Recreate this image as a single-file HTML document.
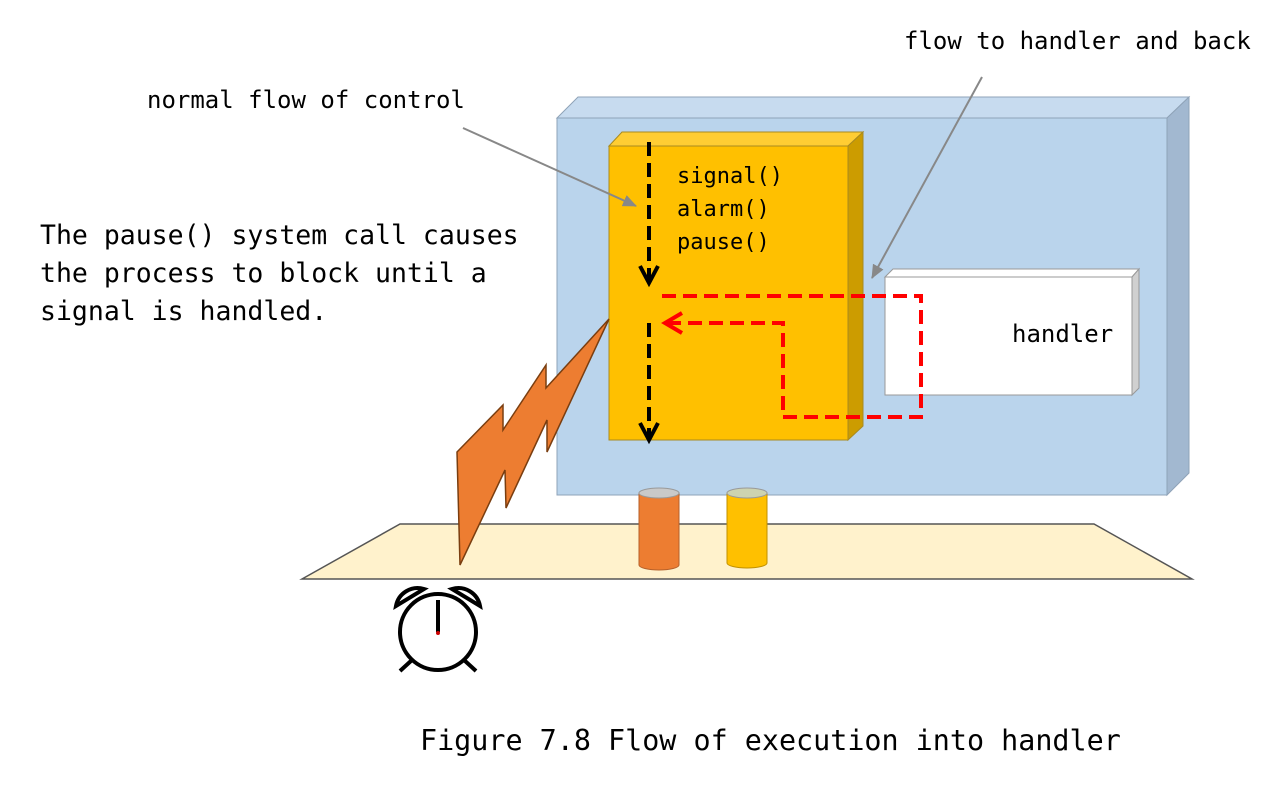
<!DOCTYPE html>
<html><head><meta charset="utf-8"><style>
body{margin:0;background:#fff;width:1280px;height:786px;overflow:hidden}
svg text{font-family:"DejaVu Sans Mono","Liberation Mono",monospace;fill:#000}
</style></head><body>
<svg width="1280" height="786" viewBox="0 0 1280 786" xmlns="http://www.w3.org/2000/svg">
<defs>
<marker id="ga" markerWidth="14" markerHeight="12" refX="13" refY="6" orient="auto" markerUnits="userSpaceOnUse"><path d="M0,0 L14,6 L0,12 z" fill="#888"/></marker>
</defs>
<polygon points="302,579 400,524 1094,524 1192,579" fill="#fff2cc" stroke="#555" stroke-width="1.5"/>
<polygon points="557,118 578,97 1189,97 1167,118" fill="#c7dbef" stroke="#8fa3b8"/>
<polygon points="1167,118 1189,97 1189,473 1167,495" fill="#a2b8d0" stroke="#8fa3b8"/>
<rect x="557" y="118" width="610" height="377" fill="#bad4ec" stroke="#8fa3b8"/>
<polygon points="609,146 622,132 863,132 848,146" fill="#ffcd33" stroke="#a88a20"/>
<polygon points="848,146 863,132 863,426 848,440" fill="#cc9c00" stroke="#a88a20"/>
<rect x="609" y="146" width="239" height="294" fill="#ffc000" stroke="#a88a20"/>
<polygon points="885,277 893,269 1139,269 1132,277" fill="#fff" stroke="#999"/>
<polygon points="1132,277 1139,269 1139,388 1132,395" fill="#d0d0d0" stroke="#999"/>
<rect x="885" y="277" width="247" height="118" fill="#fff" stroke="#999"/>
<text x="1012" y="342" font-size="24">handler</text>
<text x="677" y="183" font-size="22">signal()</text>
<text x="677" y="216" font-size="22">alarm()</text>
<text x="677" y="249" font-size="22">pause()</text>
<line x1="649" y1="142" x2="649" y2="282" stroke="#000" stroke-width="4" stroke-dasharray="14,7"/>
<polyline points="640,266 649,283 658,266" fill="none" stroke="#000" stroke-width="4"/>
<line x1="649" y1="323" x2="649" y2="439" stroke="#000" stroke-width="4" stroke-dasharray="14,7"/>
<polyline points="640,423 649,440 658,423" fill="none" stroke="#000" stroke-width="4"/>
<polyline points="662,296 921,296 921,417 783,417 783,323 666,323" fill="none" stroke="#f00" stroke-width="4" stroke-dasharray="14,7"/>
<polyline points="682,313 665,323 682,333" fill="none" stroke="#f00" stroke-width="4"/>
<line x1="463" y1="128" x2="636" y2="206" stroke="#888" stroke-width="2" marker-end="url(#ga)"/>
<line x1="982" y1="77" x2="872" y2="278" stroke="#888" stroke-width="2" marker-end="url(#ga)"/>
<polygon points="609,319 546,388 546,365 503,430 503,405 457,452 460,565 505,470 506,508 547,420 547,452" fill="#ed7d31" stroke="#7a3e10" stroke-width="1.5"/>
<path d="M639,493 L639,565 A20,5 0 0 0 679,565 L679,493 Z" fill="#ed7d31" stroke="#b5602a"/>
<ellipse cx="659" cy="493" rx="20" ry="5" fill="#c9c9c9" stroke="#999"/>
<path d="M727,493 L727,563 A20,5 0 0 0 767,563 L767,493 Z" fill="#ffc000" stroke="#c09000"/>
<ellipse cx="747" cy="493" rx="20" ry="5" fill="#cdd3b0" stroke="#999"/>
<circle cx="438" cy="632" r="38" fill="#fff" stroke="#000" stroke-width="4"/>
<path d="M396,606 A22,22 0 0 1 424,589 Z" fill="#fff" stroke="#000" stroke-width="4"/>
<path d="M480,606 A22,22 0 0 0 452,589 Z" fill="#fff" stroke="#000" stroke-width="4"/>
<line x1="438" y1="600" x2="438" y2="632" stroke="#000" stroke-width="4"/>
<circle cx="438" cy="633" r="2" fill="#c00"/>
<line x1="412" y1="660" x2="400" y2="671" stroke="#000" stroke-width="4"/>
<line x1="464" y1="660" x2="476" y2="671" stroke="#000" stroke-width="4"/>
<text x="147" y="108" font-size="24">normal flow of control</text>
<text x="904" y="49" font-size="24">flow to handler and back</text>
<text x="40" y="244" font-size="26.5">The pause() system call causes</text>
<text x="40" y="282" font-size="26.5">the process to block until a</text>
<text x="40" y="320" font-size="26.5">signal is handled.</text>
<text x="420" y="750" font-size="28.4">Figure 7.8 Flow of execution into handler</text>
</svg>
</body></html>
